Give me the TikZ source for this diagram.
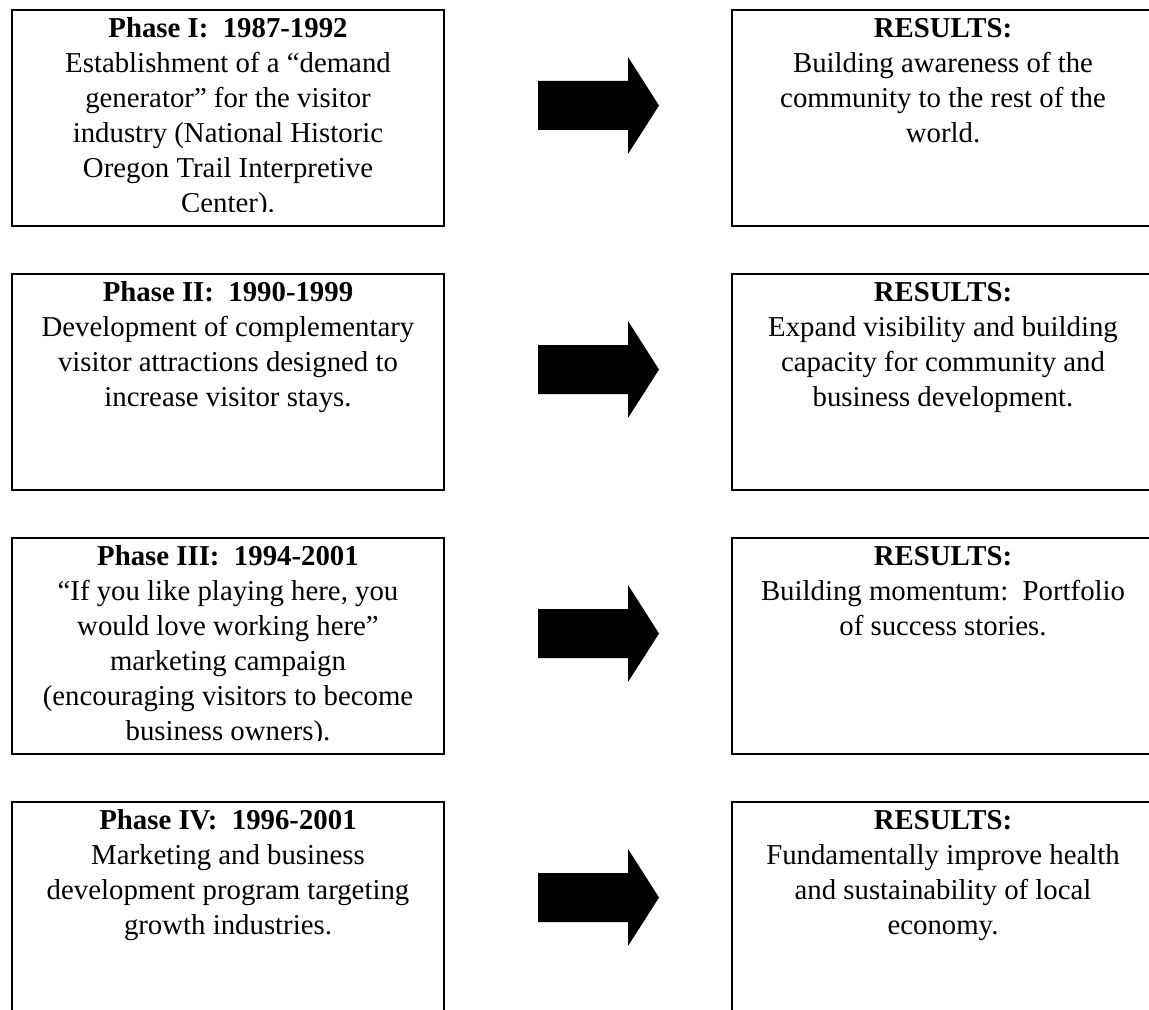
\documentclass[tikz,border=0pt]{standalone}
\usepackage{fontspec}
\setmainfont{Liberation Serif}
\tikzset{
  stagebox/.style={draw, line width=1pt, rectangle, anchor=north west, inner sep=0pt,
    minimum width=216pt, minimum height=108pt},
  resultbox/.style={stagebox, minimum width=211pt},
  boxtext/.style={anchor=north, align=center, inner sep=0pt,
    font=\fontsize{14.4}{17.5}\selectfont\frenchspacing}
}
% text hangs from the top of a box and is cut off at its bottom
\def\cliptext(#1)#2{%
  \begin{scope}
    \clip ([yshift=-1pt]#1.north west) rectangle ([yshift=7.5pt]#1.south east);
    \node[boxtext] (#1txt) at ([yshift=-4.3pt]#1.north) {#2};
  \end{scope}}
\def\blockarrow(#1,#2){\fill[black] (#1,#2) -- ++(90,0) -- ++(0,-24) -- ++(31,48.5) -- ++(-31,48.5) -- ++(0,-24) -- ++(-90,0) -- cycle;}

\begin{document}
\begin{tikzpicture}[x=0.5pt,y=-0.5pt]
	\useasboundingbox (0,0) rectangle (1149,1010);
	\clip (0,0) rectangle (1149,1010);

	% Phase I
	\node[stagebox] (phaseI) at (11,9) {};
	\node[resultbox] (resI) at (731,9) {};
	\cliptext(phaseI){\textbf{Phase I:~~1987-1992}\\ Establishment of a “demand\\ generator” for the visitor\\ industry (National Historic\\ Oregon Trail Interpretive\\ Center).}
	\cliptext(resI){\textbf{RESULTS:}\\ Building awareness of the\\ community to the rest of the\\ world.}
	\blockarrow(538,81)

	% Phase II
	\node[stagebox] (phaseII) at (11,273) {};
	\node[resultbox] (resII) at (731,273) {};
	\cliptext(phaseII){\textbf{Phase II:~~1990-1999}\\ Development of complementary\\ visitor attractions designed to\\ increase visitor stays.}
	\cliptext(resII){\textbf{RESULTS:}\\ Expand visibility and building\\ capacity for community and\\ business development.}
	\blockarrow(538,345)

	% Phase III
	\node[stagebox] (phaseIII) at (11,537) {};
	\node[resultbox] (resIII) at (731,537) {};
	\cliptext(phaseIII){\textbf{Phase III:~~1994-2001}\\ “If you like playing here, you\\ would love working here”\\ marketing campaign\\ (encouraging visitors to become\\ business owners).}
	\cliptext(resIII){\textbf{RESULTS:}\\ Building momentum:~~Portfolio\\ of success stories.}
	\blockarrow(538,609)

	% Phase IV
	\node[stagebox] (phaseIV) at (11,801) {};
	\node[resultbox] (resIV) at (731,801) {};
	\cliptext(phaseIV){\textbf{Phase IV:~~1996-2001}\\ Marketing and business\\ development program targeting\\ growth industries.}
	\cliptext(resIV){\textbf{RESULTS:}\\ Fundamentally improve health\\ and sustainability of local\\ economy.}
	\blockarrow(538,873)
\end{tikzpicture}
\end{document}
